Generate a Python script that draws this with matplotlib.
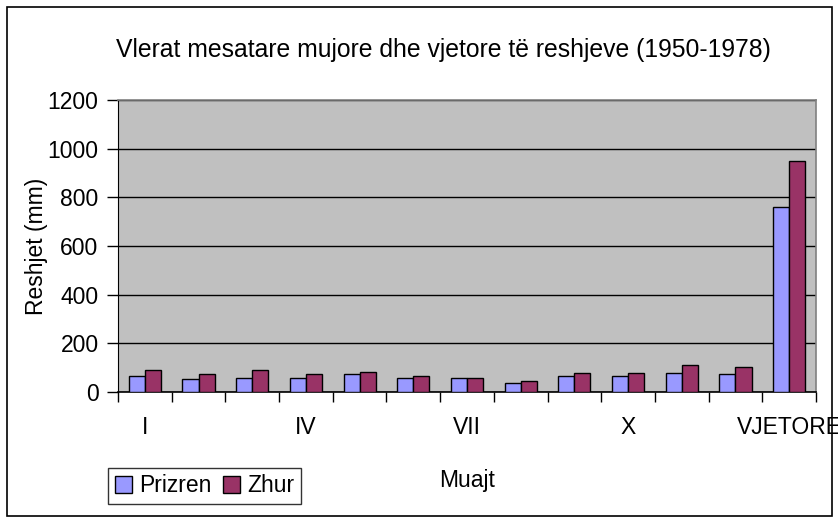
import matplotlib
matplotlib.use("Agg")
import matplotlib.pyplot as plt
from matplotlib.patches import Rectangle
import numpy as np

plt.rcParams['font.family'] = ['Liberation Sans', 'DejaVu Sans']

categories = ["I", "II", "III", "IV", "V", "VI", "VII", "VIII", "IX", "X", "XI", "XII", "VJETORE"]
shown_labels = ["I", "IV", "VII", "X", "VJETORE"]
prizren = [64, 52, 58, 58, 72, 58, 58, 39, 64, 64, 78, 72, 760]
zhur = [90, 72, 90, 72, 84, 64, 58, 45, 78, 78, 111, 104, 950]
yticks = [0, 200, 400, 600, 800, 1000, 1200]

W, H = 838, 520
fig = plt.figure(figsize=(W / 100, H / 100), dpi=100)
fig.patch.set_facecolor("white")

FS = 16.5

# outer border
fig.add_artist(Rectangle((7 / W, (H - 516) / H), (832 - 7) / W, (516 - 7) / H,
                         transform=fig.transFigure, fill=False, edgecolor="black", linewidth=1.2))

ax = fig.add_axes([118 / W, (H - 392) / H, 698 / W, 292 / H])
ax.set_facecolor("#C0C0C0")

x = np.arange(len(categories))
bw = 0.3
ax.bar(x - bw / 2, prizren, width=bw, color="#9999FF", edgecolor="black", linewidth=1.0, label="Prizren", zorder=3)
ax.bar(x + bw / 2, zhur, width=bw, color="#993366", edgecolor="black", linewidth=1.0, label="Zhur", zorder=3)

ax.set_xlim(-0.5, len(categories) - 0.5)
ax.set_ylim(0, 1200)
ax.set_yticks(yticks)
ax.set_yticklabels([str(v) for v in yticks], fontsize=FS)
ax.yaxis.grid(True, color="black", linewidth=1.0, zorder=1)
ax.set_axisbelow(True)

# major ticks at category boundaries, labels as minor ticks at centers
ax.set_xticks(np.arange(len(categories) + 1) - 0.5)
ax.set_xticklabels([])
idx = [categories.index(c) for c in shown_labels]
ax.set_xticks(idx, minor=True)
ax.set_xticklabels(shown_labels, minor=True, fontsize=FS)
ax.tick_params(axis="x", which="major", direction="out", length=7, width=1, color="black")
ax.tick_params(axis="x", which="minor", length=0, pad=17)
ax.tick_params(axis="y", direction="out", length=8, width=1, pad=6)

for s in ["top", "right"]:
    ax.spines[s].set_color("#808080")
    ax.spines[s].set_linewidth(1.2)
ax.spines["left"].set_color("black")
ax.spines["bottom"].set_color("black")
ax.spines["bottom"].set_linewidth(1.2)

fig.text(443 / W, (H - 50) / H, "Vlerat mesatare mujore dhe vjetore të reshjeve (1950-1978)",
         ha="center", va="center", fontsize=17.8)
fig.text(36 / W, (H - 246) / H, "Reshjet (mm)", rotation=90, ha="center", va="center", fontsize=FS)
fig.text(467 / W, (H - 480) / H, "Muajt", ha="center", va="center", fontsize=FS)

leg = fig.legend(loc="center left", bbox_to_anchor=(108 / W, (H - 486) / H), frameon=True,
                 fontsize=FS, ncol=2, handlelength=0.75, handleheight=0.75, handletextpad=0.3,
                 columnspacing=0.5, borderpad=0.3, borderaxespad=0, fancybox=False, edgecolor="black")
leg.get_frame().set_linewidth(1.0)

fig.savefig("out.png", dpi=100)
